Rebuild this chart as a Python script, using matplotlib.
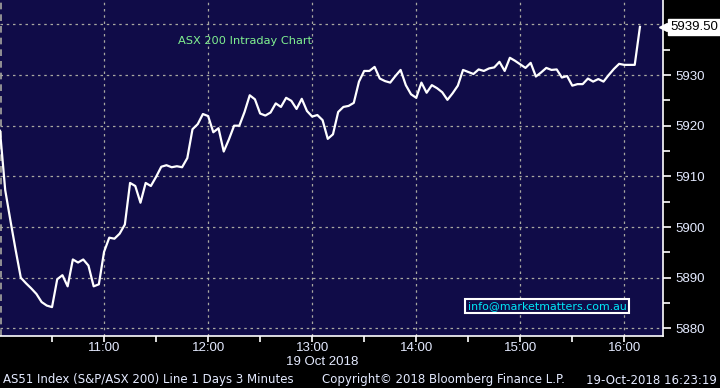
import numpy as np
import matplotlib
matplotlib.use("Agg")
import matplotlib.pyplot as plt

# ASX 200 intraday, 3-minute bars from 10:00
values = [
    5919.0, 5907.3, 5901.3, 5895.5, 5890.0, 5888.9, 5887.9, 5886.8, 5885.2, 5884.5,
    5884.2, 5889.7, 5890.5, 5888.3, 5893.6, 5893.0, 5893.6, 5892.4, 5888.3, 5888.7,
    5895.1, 5897.9, 5897.7, 5898.7, 5900.5, 5908.7, 5908.1, 5904.8, 5908.7, 5908.1,
    5909.9, 5911.9, 5912.2, 5911.8, 5912.0, 5911.8, 5913.6, 5919.3, 5920.3, 5922.3,
    5921.9, 5918.7, 5919.5, 5914.9, 5917.3, 5920.0, 5920.0, 5922.7, 5926.0, 5925.2,
    5922.4, 5922.0, 5922.6, 5924.4, 5923.7, 5925.5, 5924.9, 5923.3, 5925.3, 5922.9,
    5921.8, 5922.1, 5921.1, 5917.4, 5918.3, 5922.7, 5923.7, 5923.9, 5924.5, 5928.7,
    5930.8, 5930.8, 5931.6, 5929.3, 5928.8, 5928.5, 5929.8, 5931.0, 5928.0, 5926.2,
    5925.5, 5928.5, 5926.5, 5928.0, 5927.4, 5926.6, 5925.1, 5926.4, 5927.9, 5931.0,
    5930.6, 5930.2, 5931.1, 5930.8, 5931.3, 5931.5, 5932.6, 5930.8, 5933.4, 5932.8,
    5932.1, 5931.4, 5932.4, 5929.7, 5930.5, 5931.4, 5931.0, 5931.1, 5929.5, 5929.8,
    5927.9, 5928.2, 5928.2, 5929.3, 5928.7, 5929.2, 5928.7, 5930.0, 5931.2, 5932.2,
    5932.0, 5932.0, 5932.0, 5939.5,
]
bar_minutes = 3
hour_labels = ["11:00", "12:00", "13:00", "14:00", "15:00", "16:00"]
y_ticks = [5880, 5890, 5900, 5910, 5920, 5930]
last_price = values[-1]

minutes = np.arange(len(values)) * bar_minutes
hour_pos = [60 * (i + 1) for i in range(len(hour_labels))]

navy = "#100c48"
tick_col = "#e4eaff"
grid_col = "#a8a8a0"
tick_font = "Liberation Sans"

fig = plt.figure(figsize=(7.2, 3.88), dpi=100, facecolor="black")
ax = fig.add_axes([0, 52 / 388, 663 / 720, 336 / 388])
ax.set_facecolor(navy)

ax.plot(minutes, values, color="white", lw=1.6, zorder=3)

ax.set_xlim(0, 382.3)
ax.set_ylim(5878.5, 5944.8)

# grid
for x in hour_pos:
    ax.axvline(x, color=grid_col, lw=0.9, ls=(0, (2, 3)), zorder=1)
for y in y_ticks + [5940]:
    ax.axhline(y, color=grid_col, lw=0.9, ls=(0, (2, 3)), zorder=1)
ax.axvline(0.4, color=grid_col, lw=1.2, ls=(0, (4, 3)), zorder=1)

# axes
for s in ["left", "top"]:
    ax.spines[s].set_visible(False)
for s in ["right", "bottom"]:
    ax.spines[s].set_color("white")
    ax.spines[s].set_linewidth(1.2)

ax.yaxis.tick_right()
ax.set_yticks(y_ticks)
ax.set_yticklabels([str(v) for v in y_ticks], family=tick_font)
ax.set_yticks([v + 5 for v in y_ticks], minor=True)
ax.set_xticks(hour_pos)
ax.set_xticklabels(hour_labels, family=tick_font)
ax.set_xticks([p - 30 for p in hour_pos], minor=True)
ax.tick_params(axis="both", which="both", colors="white", labelcolor=tick_col,
               labelsize=9.5, width=1.2)
ax.tick_params(axis="y", which="major", length=6, pad=3)
ax.tick_params(axis="y", which="minor", length=5)
ax.tick_params(axis="x", which="major", length=4, pad=0.5)
ax.tick_params(axis="x", which="minor", length=4)

# last price tag
ax.plot([1.0], [last_price], marker="<", color="white", ms=6,
        transform=ax.get_yaxis_transform(), clip_on=False, zorder=5)
ax.text(1.011, last_price, f"{last_price:.2f}", transform=ax.get_yaxis_transform(),
        ha="left", va="center", fontsize=9.5, color="black", family=tick_font,
        bbox=dict(boxstyle="square,pad=0.15", fc="white", ec="white"), zorder=6)

# labels
ax.text(0.268, 0.878, "ASX 200 Intraday Chart", transform=ax.transAxes,
        color="#80f090", fontsize=8.2, ha="left", va="center")
ax.text(0.825, 0.089, "info@marketmatters.com.au", transform=ax.transAxes,
        color="#00e8f8", fontsize=7.9, ha="center", va="center",
        bbox=dict(boxstyle="square,pad=0.2", fc=navy, ec="white", lw=1.5))

fig.text(358 / 720, 1 - 362 / 388, "19 Oct 2018", color=tick_col, fontsize=9.5,
         family=tick_font, ha="right", va="center")
fig.text(3 / 720, 1 - 380 / 388, "AS51 Index (S&P/ASX 200) Line 1 Days 3 Minutes",
         color=tick_col, fontsize=8.5, ha="left", va="center")
fig.text(322 / 720, 1 - 380 / 388, "Copyright\u00a9 2018 Bloomberg Finance L.P.",
         color=tick_col, fontsize=8.5, ha="left", va="center")
fig.text(717 / 720, 1 - 380 / 388, "19-Oct-2018 16:23:19",
         color=tick_col, fontsize=8.5, ha="right", va="center")

fig.savefig("out.png", dpi=100, facecolor="black")
